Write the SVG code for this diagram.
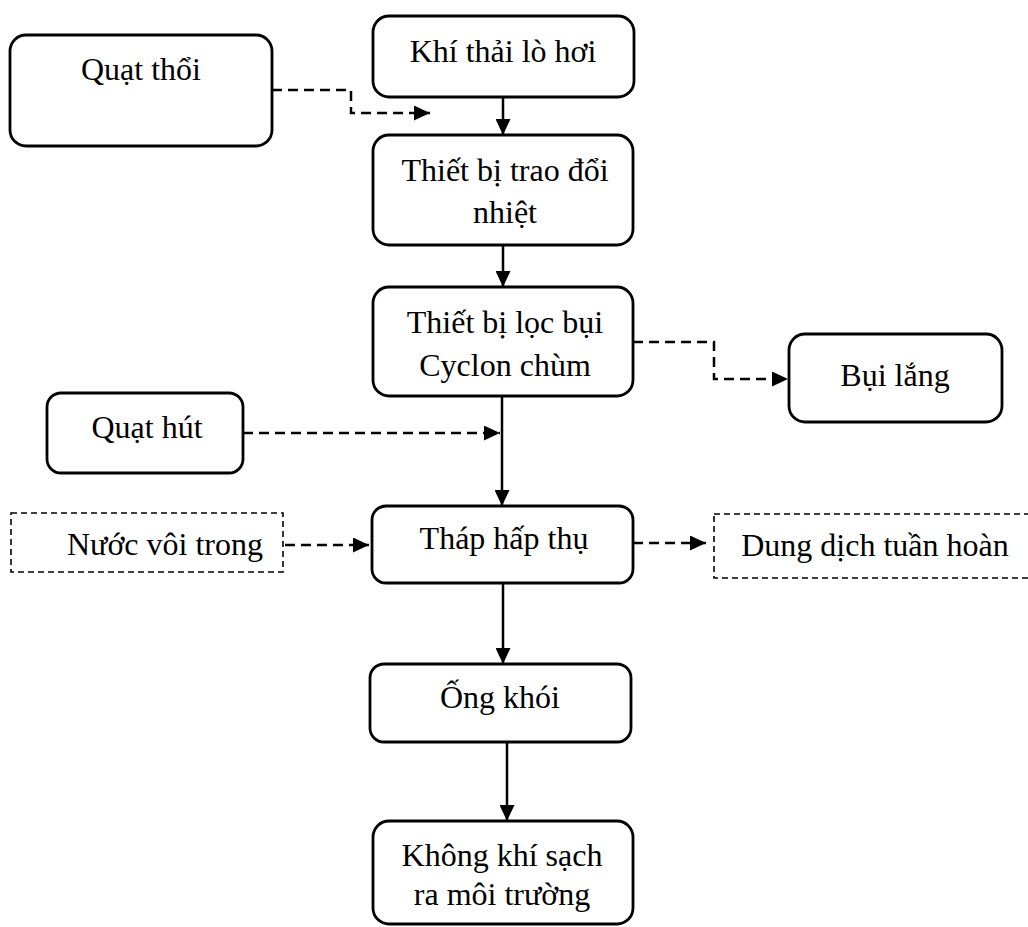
<svg xmlns="http://www.w3.org/2000/svg" width="1028" height="927" viewBox="0 0 1028 927">
  <style>
    .box { fill: #ffffff; stroke: #000000; stroke-width: 2.8; }
    .dbox { fill: #ffffff; stroke: #000000; stroke-width: 1.6; stroke-dasharray: 6 4; }
    .lbl { font-family: "Liberation Serif", "Times New Roman", serif; font-size: 32px; fill: #000000; text-anchor: middle; }
    .flow { fill: none; stroke: #000000; stroke-width: 2.5; }
    .aux { fill: none; stroke: #000000; stroke-width: 2.5; stroke-dasharray: 10 6; }
  </style>
  <defs>
    <marker id="tip" viewBox="0 0 16 15" markerWidth="16" markerHeight="15" refX="16" refY="7.5" orient="auto" markerUnits="userSpaceOnUse">
      <path d="M0,0 L16,7.5 L0,15 z" fill="#000000"/>
    </marker>
  </defs>
  <rect width="1028" height="927" fill="#ffffff"/>

  <g id="connectors">
    <line class="flow" x1="503" y1="97" x2="503" y2="135" marker-end="url(#tip)"/>
    <path class="aux" d="M272,90 H351 V113 H430" marker-end="url(#tip)"/>
    <line class="flow" x1="503" y1="245" x2="503" y2="287" marker-end="url(#tip)"/>
    <path class="aux" d="M633,342 H714 V379 H788" marker-end="url(#tip)"/>
    <line class="flow" x1="502" y1="396" x2="502" y2="506" marker-end="url(#tip)"/>
    <path class="aux" d="M243,433 H500" marker-end="url(#tip)"/>
    <path class="aux" d="M285,545 H369" marker-end="url(#tip)"/>
    <path class="aux" d="M633,543 H706" marker-end="url(#tip)"/>
    <line class="flow" x1="503" y1="583" x2="503" y2="664" marker-end="url(#tip)"/>
    <line class="flow" x1="507" y1="742" x2="507" y2="821" marker-end="url(#tip)"/>
  </g>

  <g id="quat-thoi">
    <rect class="box" x="10" y="35" width="262" height="111" rx="16"/>
    <text class="lbl" x="141" y="80">Quạt thổi</text>
  </g>

  <g id="khi-thai">
    <rect class="box" x="373" y="16" width="261" height="81" rx="16"/>
    <text class="lbl" x="503" y="62">Khí thải lò hơi</text>
  </g>

  <g id="trao-doi-nhiet">
    <rect class="box" x="373" y="135" width="260" height="110" rx="16"/>
    <text class="lbl" x="505" y="181">Thiết bị trao đổi</text>
    <text class="lbl" x="505" y="223">nhiệt</text>
  </g>

  <g id="loc-bui">
    <rect class="box" x="373" y="287" width="260" height="109" rx="16"/>
    <text class="lbl" x="505" y="333">Thiết bị lọc bụi</text>
    <text class="lbl" x="505" y="376">Cyclon chùm</text>
  </g>

  <g id="bui-lang">
    <rect class="box" x="789" y="334" width="213" height="88" rx="16"/>
    <text class="lbl" x="895" y="386">Bụi lắng</text>
  </g>

  <g id="quat-hut">
    <rect class="box" x="47" y="393" width="196" height="80" rx="14"/>
    <text class="lbl" x="147" y="438">Quạt hút</text>
  </g>

  <g id="nuoc-voi">
    <rect class="dbox" x="11" y="513" width="272" height="59"/>
    <text class="lbl" x="165" y="555">Nước vôi trong</text>
  </g>

  <g id="thap-hap-thu">
    <rect class="box" x="372" y="506" width="261" height="77" rx="14"/>
    <text class="lbl" x="504" y="549">Tháp hấp thụ</text>
  </g>

  <g id="dung-dich">
    <rect class="dbox" x="714" y="514" width="330" height="64"/>
    <text class="lbl" x="875" y="556">Dung dịch tuần hoàn</text>
  </g>

  <g id="ong-khoi">
    <rect class="box" x="370" y="664" width="261" height="78" rx="14"/>
    <text class="lbl" x="500" y="708">Ống khói</text>
  </g>

  <g id="khong-khi-sach">
    <rect class="box" x="373" y="821" width="260" height="103" rx="16"/>
    <text class="lbl" x="502" y="866">Không khí sạch</text>
    <text class="lbl" x="502" y="905">ra môi trường</text>
  </g>
</svg>
